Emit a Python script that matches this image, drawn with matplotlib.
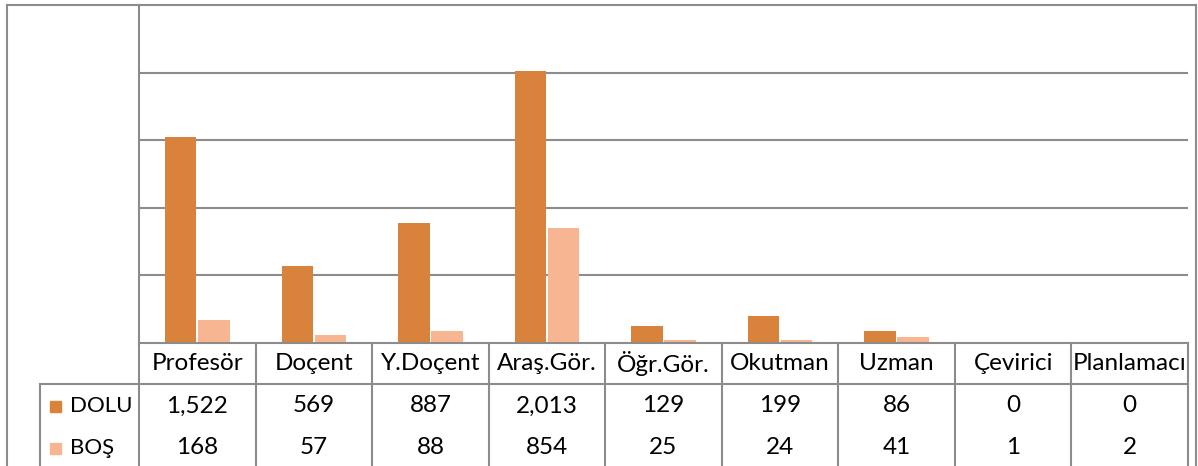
import matplotlib.pyplot as plt
from matplotlib.lines import Line2D
from matplotlib.patches import Rectangle
import matplotlib.transforms as mtransforms

categories = ['Profesör', 'Doçent', 'Y.Doçent', 'Araş.Gör.', 'Öğr.Gör.',
              'Okutman', 'Uzman', 'Çevirici', 'Planlamacı']
dolu = [1522, 569, 887, 2013, 129, 199, 86, 0, 0]
bos = [168, 57, 88, 854, 25, 24, 41, 1, 2]
series_names = ['DOLU', 'BOŞ']
colors = ['#D9823C', '#F8B592']

W, H = 1198, 466
plt.rcParams['font.family'] = ['Lato', 'DejaVu Sans']
fig = plt.figure(figsize=(W / 100, H / 100), dpi=100)

def fx(x):
    return x / W

def fy(y):
    return 1 - y / H

gray = '#8c8c8c'
lw = 1.5

# plot area
left, right, top, base = 139, 1188, 5, 343
ax = fig.add_axes([fx(left), fy(base), fx(right - left), (base - top) / H])
xs = list(range(len(categories)))
ax.bar([x - 0.142 for x in xs], dolu, 0.27, color=colors[0], zorder=3)
ax.bar([x + 0.142 for x in xs], bos, 0.27, color=colors[1], zorder=3)
ax.set_xlim(-0.5, len(categories) - 0.5)
ax.set_ylim(0, 2500)
ax.set_yticks([500, 1000, 1500, 2000])
ax.yaxis.grid(True, color=gray, linewidth=lw, zorder=0)
ax.tick_params(left=False, bottom=False, labelleft=False, labelbottom=False)
for s in ['top', 'right', 'bottom']:
    ax.spines[s].set_visible(False)
ax.spines['left'].set_color(gray)
ax.spines['left'].set_linewidth(lw)

# outer border
def hline(x0, x1, y):
    fig.add_artist(Line2D([fx(x0), fx(x1)], [fy(y), fy(y)], color=gray, linewidth=lw))

def vline(x, y0, y1):
    fig.add_artist(Line2D([fx(x), fx(x)], [fy(y0), fy(y1)], color=gray, linewidth=lw))

hline(7, 1196, 5)
vline(7, 5, 470)
vline(1196, 5, 470)

# data table
head_bot = 384
hline(left, right, base)
hline(40, right, head_bot)
vline(40, head_bot, 470)
colw = (right - left) / len(categories)
for i in range(len(categories) + 1):
    vline(left + i * colw, base, 470)

trans = mtransforms.blended_transform_factory(ax.transData, fig.transFigure)
fs = 17.5
for i, c in enumerate(categories):
    fig.text(i, fy(364), c, transform=trans, ha='center', va='center', fontsize=fs)
    fig.text(i, fy(406), '{:,}'.format(dolu[i]), transform=trans, ha='center', va='center', fontsize=fs)
    fig.text(i, fy(448), '{:,}'.format(bos[i]), transform=trans, ha='center', va='center', fontsize=fs)

for j, (name, col, y) in enumerate(zip(series_names, colors, [406, 448])):
    fig.add_artist(Rectangle((fx(50), fy(y + 6)), fx(11), 11 / H, color=col))
    fig.text(fx(70), fy(y), name, ha='left', va='center', fontsize=16)

fig.savefig('out.png', dpi=100)
